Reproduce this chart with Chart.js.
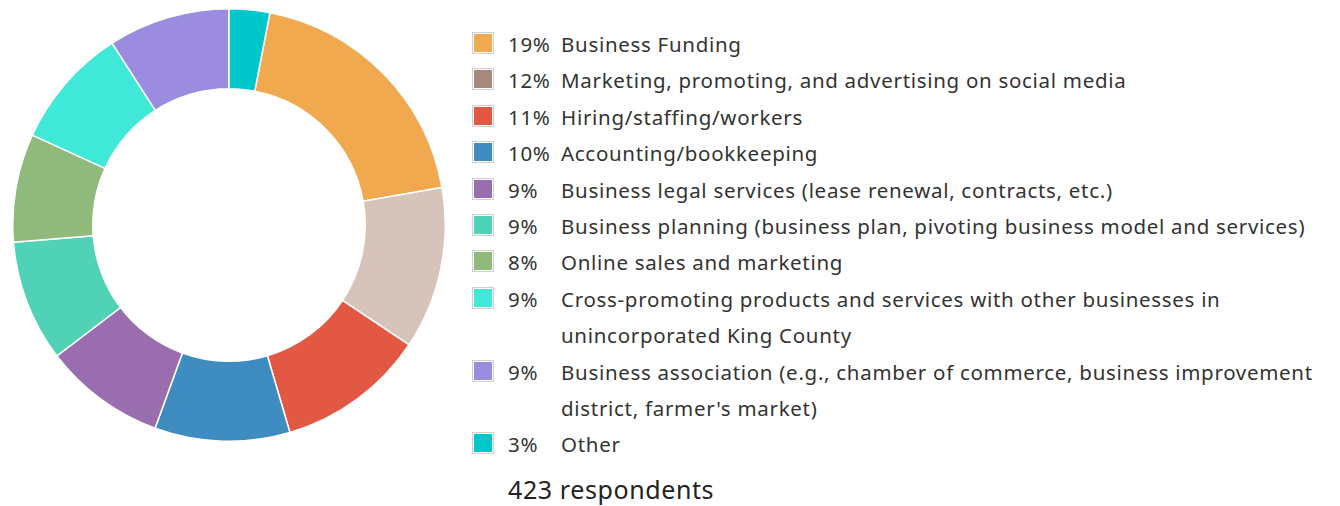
<!DOCTYPE html>
<html>
<head>
<meta charset="utf-8">
<script src="https://cdn.jsdelivr.net/npm/chart.js@4"></script>
<style>
  body { margin: 0; background: #fff; font-family: "Noto Sans", "Open Sans", sans-serif; color: #333; }
  #wrap { position: relative; width: 1340px; height: 506px; }
  #chartBox { position: absolute; left: 12px; top: 8px; width: 434px; height: 434px; }
  #legend { position: absolute; left: 472px; top: 26px; font-size: 20.5px; letter-spacing: 0.7px; line-height: 36.4px; }
  .row { display: flex; align-items: flex-start; }
  .swatch { flex: none; width: 18px; height: 18px; padding: 1px; border: 1px solid #cfcfcf; background-clip: content-box; margin-top: 6px; margin-right: 14px; }
  .pct { flex: none; width: 53px; }
  .lbl { white-space: pre; }
  #total { position: absolute; left: 508px; top: 472px; font-size: 25px; letter-spacing: 0.6px; color: #222; }
</style>
</head>
<body>
<div id="wrap">
  <div id="chartBox"><canvas id="needsChart" width="434" height="434"></canvas></div>
  <div id="legend"></div>
  <div id="total"></div>
</div>
<script>
// Survey data
const categories = [
  "Business Funding",
  "Marketing, promoting, and advertising on social media",
  "Hiring/staffing/workers",
  "Accounting/bookkeeping",
  "Business legal services (lease renewal, contracts, etc.)",
  "Business planning (business plan, pivoting business model and services)",
  "Online sales and marketing",
  "Cross-promoting products and services with other businesses in\nunincorporated King County",
  "Business association (e.g., chamber of commerce, business improvement\ndistrict, farmer's market)",
  "Other"
];
const percents = [19, 12, 11, 10, 9, 9, 8, 9, 9, 3];
const respondents = 423;

const sliceColors = [
  "#f0a94f", "#d6c4bb", "#e35843", "#3e8cc0", "#9a6dae",
  "#4fd2b5", "#8fba7b", "#40e9d7", "#9b8ce0", "#00c7ca"
];
// legend swatch for marketing is darker than its slice
const swatchColors = sliceColors.slice();
swatchColors[1] = "#a8877c";

// Build legend
const legend = document.getElementById("legend");
categories.forEach((name, i) => {
    const row = document.createElement("div");
    row.className = "row";
    row.innerHTML =
        '<span class="swatch" style="background-color:' + swatchColors[i] + '"></span>' +
        '<span class="pct">' + percents[i] + '%</span>' +
        '<span class="lbl"></span>';
    row.querySelector(".lbl").textContent = name;
    legend.appendChild(row);
});
document.getElementById("total").textContent = respondents + " respondents";

// "Other" sits at the top, the rest follow clockwise
const total = percents.reduce((a, b) => a + b, 0);
const startAngle = 360 * percents[percents.length - 1] / total;

new Chart(document.getElementById("needsChart"), {
    type: "doughnut",
    data: {
        labels: categories,
        datasets: [{
            data: percents,
            backgroundColor: sliceColors,
            borderColor: "#ffffff",
            borderWidth: 1.5
        }]
    },
    options: {
        responsive: false,
        animation: false,
        rotation: startAngle,
        cutout: "63%",
        layout: { padding: 0 },
        plugins: {
            legend: { display: false },
            tooltip: { enabled: false }
        }
    }
});
</script>
</body>
</html>
